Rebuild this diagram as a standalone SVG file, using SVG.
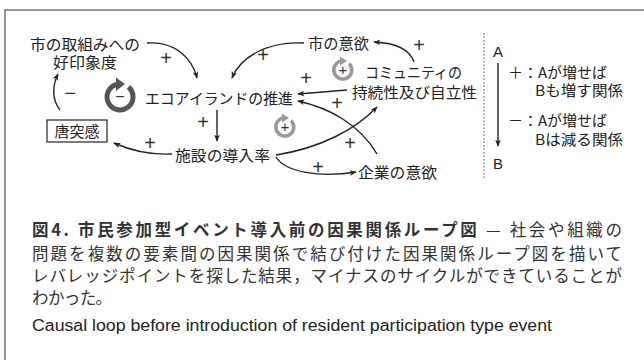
<svg xmlns="http://www.w3.org/2000/svg" width="644" height="360" viewBox="0 0 644 360">
<style>
.t{font-family:"Noto Sans CJK JP","Noto Sans",sans-serif;font-size:15px;fill:#222}
.s{font-family:"Liberation Sans",Arial,sans-serif;font-size:20px;fill:#333;text-anchor:middle}
.l{font-family:"Liberation Sans",Arial,sans-serif;font-size:15px;fill:#222}
.c{font-family:"Noto Sans CJK JP",sans-serif;font-size:16.5px;fill:#333}
.e{font-family:"Liberation Sans",Arial,sans-serif;font-size:16px;fill:#222}
.ar{fill:none;stroke:#222;stroke-width:1.4;marker-end:url(#ah)}
</style>
<defs>
<marker id="ah" viewBox="0 0 10 10" refX="9" refY="5" markerWidth="7" markerHeight="7" orient="auto" markerUnits="userSpaceOnUse">
<path d="M0,1 L10,5 L0,9 L2.5,5 Z" fill="#222"/>
</marker>
</defs>
<rect width="644" height="360" fill="#fff"/>
<path d="M5,360 V10 H644" fill="none" stroke="#777" stroke-width="1.6"/>

<g id="connectors">
<path class="ar" d="M147,43 C175,41 192,58 197,78"/>
<path class="ar" d="M304,43 C266,41 240,58 232,78"/>
<path class="ar" d="M414,62 C410,50 396,43 374,42"/>
<path class="ar" d="M347,90 L298,94"/>
<path class="ar" d="M377,154 C360,125 330,108 298,101"/>
<path class="ar" d="M276,155 C320,148 355,130 377,107"/>
<path class="ar" d="M276,157 C285,172 320,178 356,172"/>
<path class="ar" d="M217,110 V141"/>
<path class="ar" d="M172,154 C150,155 132,151 114,143"/>
<path class="ar" d="M60,110 C52,100 52,86 58,74"/>
<text class="s" x="166" y="65">+</text>
<text class="s" x="263" y="62">+</text>
<text class="s" x="306" y="85">+</text>
<text class="s" x="337" y="110">+</text>
<text class="s" x="350" y="150">+</text>
<text class="s" x="318" y="174">+</text>
<text class="s" x="203" y="129">+</text>
<text class="s" x="150" y="150">+</text>
<text class="s" x="419" y="52">+</text>
<text class="s" x="70" y="100">−</text>
</g>

<g id="loop-neg">
<path d="M128.4,87 A13,13 0 1 1 117.5,84.2" fill="none" stroke="#555" stroke-width="5"/>
<path d="M116,77.5 L125,84 L116,91 Z" fill="#555"/>
<text class="s" x="120" y="102" style="font-size:16px">−</text>
</g>
<g id="loop-pos1">
<path d="M349,63.5 A9,9 0 1 1 341.5,61.1" fill="none" stroke="#999" stroke-width="3.5"/>
<path d="M340,56.5 L347,61 L340,65.5 Z" fill="#999"/>
<text class="s" x="343" y="75" style="font-size:15px">+</text>
</g>
<g id="loop-pos2">
<path d="M291,120.5 A9,9 0 1 1 283.5,118.1" fill="none" stroke="#999" stroke-width="3.5"/>
<path d="M282,113.5 L289,118 L282,122.5 Z" fill="#999"/>
<text class="s" x="285" y="132" style="font-size:15px">+</text>
</g>

<g id="n-koukan"><text class="t" x="30" y="50" textLength="110" lengthAdjust="spacingAndGlyphs">市の取組みへの</text><text class="t" x="53" y="68" textLength="64" lengthAdjust="spacingAndGlyphs">好印象度</text></g>
<g id="n-eco"><text class="t" x="145" y="104" textLength="148" lengthAdjust="spacingAndGlyphs">エコアイランドの推進</text></g>
<g id="n-toutotsu"><rect x="47" y="120" width="60" height="22" fill="#fff" stroke="#222" stroke-width="1.2"/><text class="t" x="77" y="137" text-anchor="middle">唐突感</text></g>
<g id="n-shisetsu"><text class="t" x="175" y="161" textLength="95" lengthAdjust="spacingAndGlyphs">施設の導入率</text></g>
<g id="n-ichi"><text class="t" x="308" y="49" textLength="61" lengthAdjust="spacingAndGlyphs">市の意欲</text></g>
<g id="n-community"><text class="t" x="365" y="78" textLength="97" lengthAdjust="spacingAndGlyphs">コミュニティの</text><text class="t" x="352" y="98" textLength="125" lengthAdjust="spacingAndGlyphs">持続性及び自立性</text></g>
<g id="n-kigyou"><text class="t" x="358" y="178" textLength="79" lengthAdjust="spacingAndGlyphs">企業の意欲</text></g>

<g id="legend">
<line x1="484" y1="33" x2="484" y2="178" stroke="#666" stroke-width="1.2" stroke-dasharray="1.5,2"/>
<text class="l" x="498" y="57" text-anchor="middle">A</text>
<text class="l" x="498" y="169" text-anchor="middle">B</text>
<line x1="498" y1="63" x2="498" y2="146" stroke="#222" stroke-width="1.4" marker-end="url(#ah)"/>
<text class="t" x="508" y="78" textLength="99" lengthAdjust="spacingAndGlyphs">＋：Aが増せば</text>
<text class="t" x="535" y="96" textLength="88" lengthAdjust="spacingAndGlyphs">Bも増す関係</text>
<text class="t" x="508" y="126" textLength="99" lengthAdjust="spacingAndGlyphs">－：Aが増せば</text>
<text class="t" x="535" y="145" textLength="88" lengthAdjust="spacingAndGlyphs">Bは減る関係</text>
</g>

<g id="caption">
<text class="c" x="32" y="236" textLength="590" lengthAdjust="spacing"><tspan font-weight="bold">図4.  市民参加型イベント導入前の因果関係ループ図</tspan> — 社会や組織の</text>
<text class="c" x="32" y="260" textLength="590" lengthAdjust="spacing">問題を複数の要素間の因果関係で結び付けた因果関係ループ図を描いて</text>
<text class="c" x="32" y="282" textLength="590" lengthAdjust="spacing">レバレッジポイントを探した結果，マイナスのサイクルができていることが</text>
<text class="c" x="32" y="304" textLength="80" lengthAdjust="spacing">わかった。</text>
<text class="e" x="32" y="331" textLength="520" lengthAdjust="spacingAndGlyphs">Causal loop before introduction of resident participation type event</text>
</g>
</svg>
